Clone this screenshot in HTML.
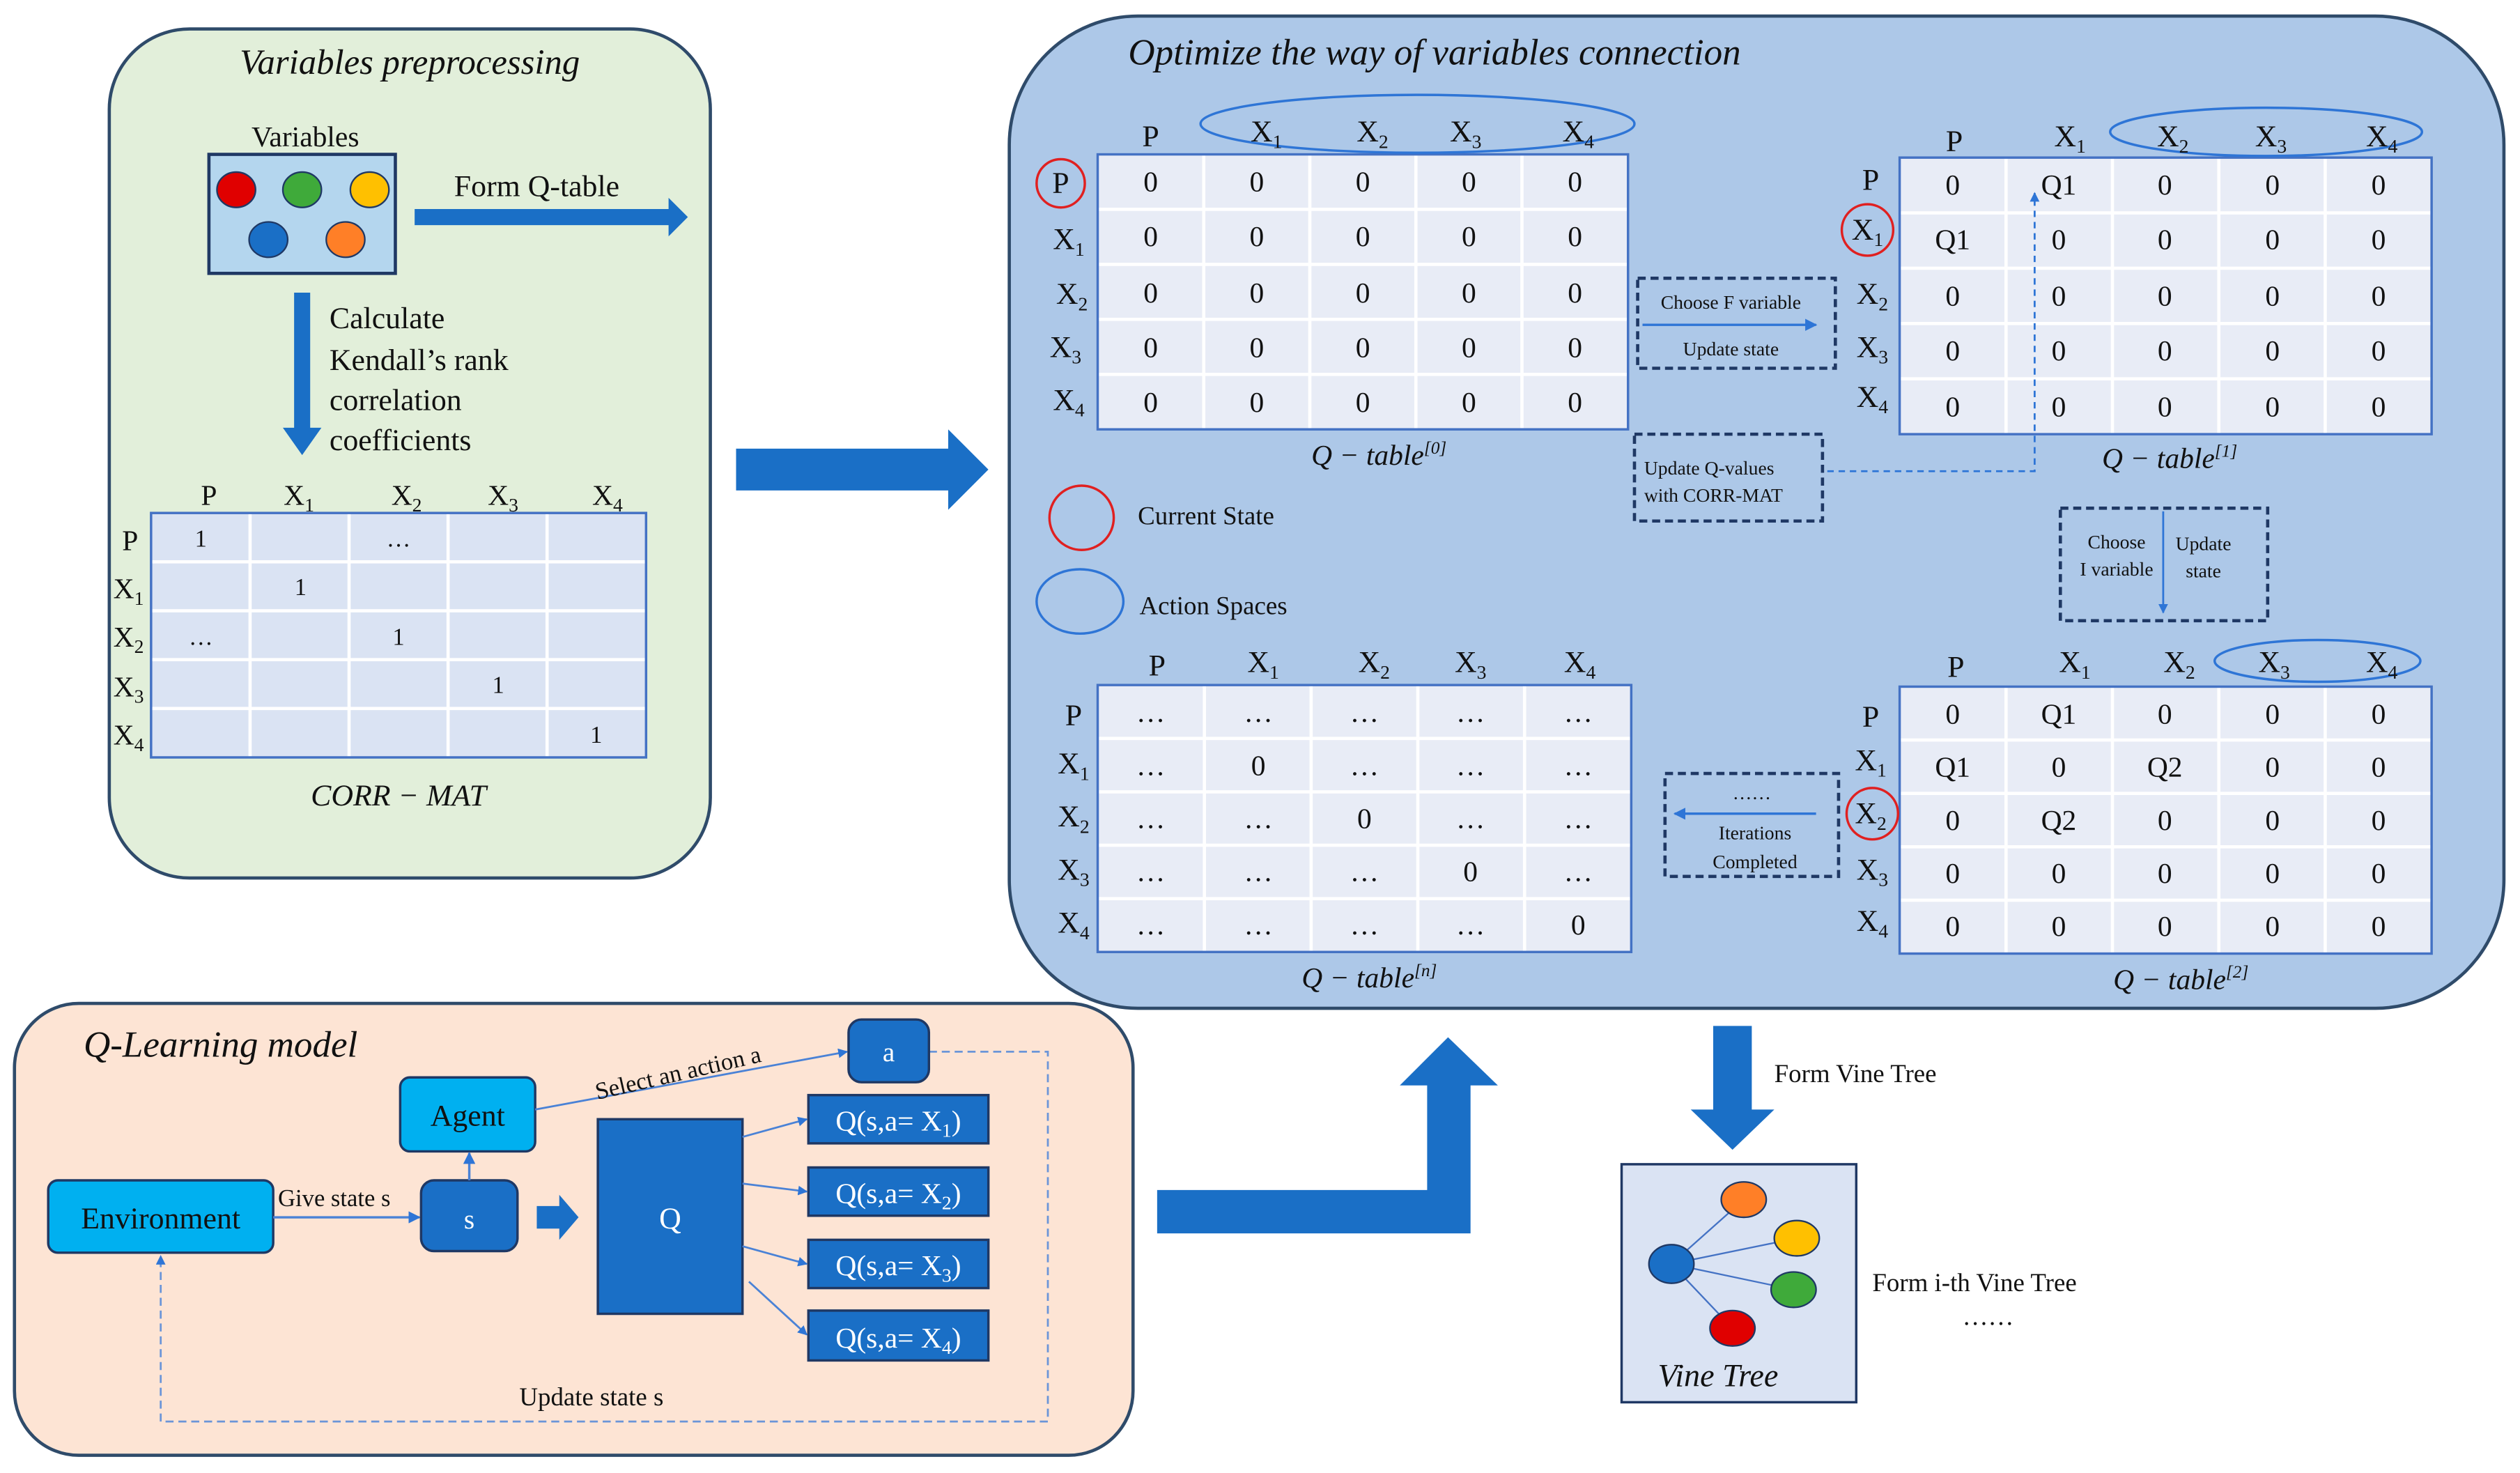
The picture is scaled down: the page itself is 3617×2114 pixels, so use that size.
<!DOCTYPE html>
<html><head><meta charset="utf-8"><style>
html,body{margin:0;padding:0;background:#fff;}
svg{display:block;}
text{font-family:"Liberation Serif",serif;fill:#111;}
</style></head><body>
<svg width="3617" height="2114" viewBox="0 0 1568 916" preserveAspectRatio="none" xmlns="http://www.w3.org/2000/svg">
<defs>
<marker id="ah" viewBox="0 0 10 10" refX="9" refY="5" markerWidth="5" markerHeight="5" orient="auto-start-reverse"><path d="M0,0L10,5L0,10z" fill="#2e75d6"/></marker>
</defs>
<rect width="1568" height="916" fill="#fff"/>

<!-- Green panel -->
<rect x="68" y="18" width="374" height="528" rx="50" fill="#e2efda" stroke="#2f4b6a" stroke-width="2"/>
<text x="255" y="46" font-size="22" font-style="italic" text-anchor="middle">Variables preprocessing</text>
<text x="190" y="91" font-size="18" text-anchor="middle">Variables</text>
<rect x="130" y="96" width="116" height="74" fill="#b4d6ee" stroke="#1f3864" stroke-width="2"/>
<g stroke="#1f3864" stroke-width="1">
<ellipse cx="147" cy="118" rx="12" ry="11" fill="#e00000"/>
<ellipse cx="188" cy="118" rx="12" ry="11" fill="#3faa3a"/>
<ellipse cx="230" cy="118" rx="12" ry="11" fill="#ffc000"/>
<ellipse cx="167" cy="149" rx="12" ry="11" fill="#1a6fc6"/>
<ellipse cx="215" cy="149" rx="12" ry="11" fill="#ff7f27"/>
</g>
<text x="334" y="122" font-size="19" text-anchor="middle">Form Q-table</text>
<path d="M258,130H416V123L428,135L416,147V140H258Z" fill="#1a6fc6"/>
<path d="M183,182H193V266H200L188,283L176,266H183Z" fill="#1a6fc6"/>
<g font-size="19"><text x="205" y="204">Calculate</text><text x="205" y="230">Kendall’s rank</text><text x="205" y="255">correlation</text><text x="205" y="280">coefficients</text></g>

<!-- CORR MAT -->
<rect x="94" y="319" width="308" height="152" fill="#dae3f3"/>
<g stroke="#fff" stroke-width="2">
<line x1="155.6" y1="319" x2="155.6" y2="471"/><line x1="217.2" y1="319" x2="217.2" y2="471"/><line x1="278.8" y1="319" x2="278.8" y2="471"/><line x1="340.4" y1="319" x2="340.4" y2="471"/>
<line x1="94" y1="349.4" x2="402" y2="349.4"/><line x1="94" y1="379.8" x2="402" y2="379.8"/><line x1="94" y1="410.2" x2="402" y2="410.2"/><line x1="94" y1="440.6" x2="402" y2="440.6"/>
</g>
<rect x="94" y="319" width="308" height="152" fill="none" stroke="#4472c4" stroke-width="1.5"/>
<g font-size="18" text-anchor="middle">
<text x="130" y="314">P</text><text x="186" y="314">X<tspan font-size="12" dy="4">1</tspan></text><text x="253" y="314">X<tspan font-size="12" dy="4">2</tspan></text><text x="313" y="314">X<tspan font-size="12" dy="4">3</tspan></text><text x="378" y="314">X<tspan font-size="12" dy="4">4</tspan></text>
<text x="81" y="342">P</text><text x="80" y="372">X<tspan font-size="12" dy="4">1</tspan></text><text x="80" y="402">X<tspan font-size="12" dy="4">2</tspan></text><text x="80" y="433">X<tspan font-size="12" dy="4">3</tspan></text><text x="80" y="463">X<tspan font-size="12" dy="4">4</tspan></text>
</g>
<g font-size="15" text-anchor="middle">
<text x="125" y="340">1</text><text x="248" y="340">…</text>
<text x="187" y="370">1</text>
<text x="125" y="401">…</text><text x="248" y="401">1</text>
<text x="310" y="431">1</text>
<text x="371" y="462">1</text>
</g>
<text x="248" y="501" font-size="19" font-style="italic" text-anchor="middle">CORR − MAT</text>

<!-- big arrow -->
<path d="M458,279H590V267L615,292L590,317V305H458Z" fill="#1a6fc6"/>

<!-- Blue panel -->
<rect x="628" y="10" width="930" height="617" rx="80" fill="#adc8e8" stroke="#2f4b6a" stroke-width="2"/>
<text x="702" y="40" font-size="23" font-style="italic">Optimize the way of variables connection</text>

<!-- Table 0 -->
<rect x="683" y="96" width="330" height="171" fill="#e8ecf6"/>
<g stroke="#fff" stroke-width="2">
<line x1="749" y1="96" x2="749" y2="267"/><line x1="815" y1="96" x2="815" y2="267"/><line x1="881" y1="96" x2="881" y2="267"/><line x1="947" y1="96" x2="947" y2="267"/>
<line x1="683" y1="130.2" x2="1013" y2="130.2"/><line x1="683" y1="164.4" x2="1013" y2="164.4"/><line x1="683" y1="198.6" x2="1013" y2="198.6"/><line x1="683" y1="232.8" x2="1013" y2="232.8"/>
</g>
<rect x="683" y="96" width="330" height="171" fill="none" stroke="#4472c4" stroke-width="1.5"/>
<ellipse cx="882" cy="77" rx="135" ry="18" fill="none" stroke="#2e75d6" stroke-width="1.5"/>
<circle cx="660" cy="114" r="15" fill="none" stroke="#e02020" stroke-width="1.5"/>
<g font-size="19" text-anchor="middle">
<text x="716" y="91">P</text><text x="788" y="88">X<tspan font-size="12" dy="4">1</tspan></text><text x="854" y="88">X<tspan font-size="12" dy="4">2</tspan></text><text x="912" y="88">X<tspan font-size="12" dy="4">3</tspan></text><text x="982" y="88">X<tspan font-size="12" dy="4">4</tspan></text>
<text x="660" y="120">P</text><text x="665" y="155">X<tspan font-size="12" dy="4">1</tspan></text><text x="667" y="189">X<tspan font-size="12" dy="4">2</tspan></text><text x="663" y="222">X<tspan font-size="12" dy="4">3</tspan></text><text x="665" y="255">X<tspan font-size="12" dy="4">4</tspan></text>
</g>
<g font-size="18" text-anchor="middle">
<text x="716" y="119">0</text><text x="782" y="119">0</text><text x="848" y="119">0</text><text x="914" y="119">0</text><text x="980" y="119">0</text>
<text x="716" y="153">0</text><text x="782" y="153">0</text><text x="848" y="153">0</text><text x="914" y="153">0</text><text x="980" y="153">0</text>
<text x="716" y="188">0</text><text x="782" y="188">0</text><text x="848" y="188">0</text><text x="914" y="188">0</text><text x="980" y="188">0</text>
<text x="716" y="222">0</text><text x="782" y="222">0</text><text x="848" y="222">0</text><text x="914" y="222">0</text><text x="980" y="222">0</text>
<text x="716" y="256">0</text><text x="782" y="256">0</text><text x="848" y="256">0</text><text x="914" y="256">0</text><text x="980" y="256">0</text>
</g>
<text x="858" y="289" font-size="18" font-style="italic" text-anchor="middle">Q − table<tspan font-size="11" dy="-7">[0]</tspan></text>

<!-- Table 1 -->
<rect x="1182" y="98" width="331" height="172" fill="#e8ecf6"/>
<g stroke="#fff" stroke-width="2">
<line x1="1248.2" y1="98" x2="1248.2" y2="270"/><line x1="1314.4" y1="98" x2="1314.4" y2="270"/><line x1="1380.6" y1="98" x2="1380.6" y2="270"/><line x1="1446.8" y1="98" x2="1446.8" y2="270"/>
<line x1="1182" y1="132.4" x2="1513" y2="132.4"/><line x1="1182" y1="166.8" x2="1513" y2="166.8"/><line x1="1182" y1="201.2" x2="1513" y2="201.2"/><line x1="1182" y1="235.6" x2="1513" y2="235.6"/>
</g>
<rect x="1182" y="98" width="331" height="172" fill="none" stroke="#4472c4" stroke-width="1.5"/>
<ellipse cx="1410" cy="82" rx="97" ry="15" fill="none" stroke="#2e75d6" stroke-width="1.5"/>
<circle cx="1162" cy="143" r="16" fill="none" stroke="#e02020" stroke-width="1.5"/>
<g font-size="19" text-anchor="middle">
<text x="1216" y="94">P</text><text x="1288" y="91">X<tspan font-size="12" dy="4">1</tspan></text><text x="1352" y="91">X<tspan font-size="12" dy="4">2</tspan></text><text x="1413" y="91">X<tspan font-size="12" dy="4">3</tspan></text><text x="1482" y="91">X<tspan font-size="12" dy="4">4</tspan></text>
<text x="1164" y="118">P</text><text x="1162" y="149">X<tspan font-size="12" dy="4">1</tspan></text><text x="1165" y="189">X<tspan font-size="12" dy="4">2</tspan></text><text x="1165" y="222">X<tspan font-size="12" dy="4">3</tspan></text><text x="1165" y="253">X<tspan font-size="12" dy="4">4</tspan></text>
</g>
<g font-size="18" text-anchor="middle">
<text x="1215" y="121">0</text><text x="1281" y="121">Q1</text><text x="1347" y="121">0</text><text x="1414" y="121">0</text><text x="1480" y="121">0</text>
<text x="1215" y="155">Q1</text><text x="1281" y="155">0</text><text x="1347" y="155">0</text><text x="1414" y="155">0</text><text x="1480" y="155">0</text>
<text x="1215" y="190">0</text><text x="1281" y="190">0</text><text x="1347" y="190">0</text><text x="1414" y="190">0</text><text x="1480" y="190">0</text>
<text x="1215" y="224">0</text><text x="1281" y="224">0</text><text x="1347" y="224">0</text><text x="1414" y="224">0</text><text x="1480" y="224">0</text>
<text x="1215" y="259">0</text><text x="1281" y="259">0</text><text x="1347" y="259">0</text><text x="1414" y="259">0</text><text x="1480" y="259">0</text>
</g>
<text x="1350" y="291" font-size="18" font-style="italic" text-anchor="middle">Q − table<tspan font-size="11" dy="-7">[1]</tspan></text>
<path d="M1137,293H1266V120" fill="none" stroke="#2e75d6" stroke-width="1.2" stroke-dasharray="4,3" marker-end="url(#ah)"/>

<!-- dashed boxes -->
<g fill="none" stroke="#1f3864" stroke-width="2" stroke-dasharray="5,3">
<rect x="1019" y="173" width="123" height="56"/>
<rect x="1017" y="270" width="117" height="54"/>
<rect x="1282" y="316" width="129" height="70"/>
<rect x="1036" y="481" width="108" height="64"/>
</g>
<line x1="1022" y1="202" x2="1130" y2="202" stroke="#2e75d6" stroke-width="1.5" marker-end="url(#ah)"/>
<g font-size="12" text-anchor="middle"><text x="1077" y="192">Choose F variable</text><text x="1077" y="221">Update state</text></g>
<g font-size="12"><text x="1023" y="295">Update Q-values</text><text x="1023" y="312">with CORR-MAT</text></g>
<line x1="1346" y1="318" x2="1346" y2="381" stroke="#2e75d6" stroke-width="1.2" marker-end="url(#ah)"/>
<g font-size="12" text-anchor="middle"><text x="1317" y="341">Choose</text><text x="1317" y="358">I variable</text><text x="1371" y="342">Update</text><text x="1371" y="359">state</text></g>
<line x1="1130" y1="506" x2="1042" y2="506" stroke="#2e75d6" stroke-width="1.5" marker-end="url(#ah)"/>
<g font-size="12" text-anchor="middle"><text x="1090" y="497">……</text><text x="1092" y="522">Iterations</text><text x="1092" y="540">Completed</text></g>

<!-- legend -->
<circle cx="673" cy="322" r="20" fill="none" stroke="#e02020" stroke-width="1.5"/>
<text x="708" y="326" font-size="16">Current State</text>
<ellipse cx="672" cy="374" rx="27" ry="20" fill="none" stroke="#2e75d6" stroke-width="1.5"/>
<text x="709" y="382" font-size="16">Action Spaces</text>

<!-- Table n -->
<rect x="683" y="426" width="332" height="166" fill="#e8ecf6"/>
<g stroke="#fff" stroke-width="2">
<line x1="749.4" y1="426" x2="749.4" y2="592"/><line x1="815.8" y1="426" x2="815.8" y2="592"/><line x1="882.2" y1="426" x2="882.2" y2="592"/><line x1="948.6" y1="426" x2="948.6" y2="592"/>
<line x1="683" y1="459.2" x2="1015" y2="459.2"/><line x1="683" y1="492.4" x2="1015" y2="492.4"/><line x1="683" y1="525.6" x2="1015" y2="525.6"/><line x1="683" y1="558.8" x2="1015" y2="558.8"/>
</g>
<rect x="683" y="426" width="332" height="166" fill="none" stroke="#4472c4" stroke-width="1.5"/>
<g font-size="19" text-anchor="middle">
<text x="720" y="420">P</text><text x="786" y="418">X<tspan font-size="12" dy="4">1</tspan></text><text x="855" y="418">X<tspan font-size="12" dy="4">2</tspan></text><text x="915" y="418">X<tspan font-size="12" dy="4">3</tspan></text><text x="983" y="418">X<tspan font-size="12" dy="4">4</tspan></text>
<text x="668" y="451">P</text><text x="668" y="481">X<tspan font-size="12" dy="4">1</tspan></text><text x="668" y="514">X<tspan font-size="12" dy="4">2</tspan></text><text x="668" y="547">X<tspan font-size="12" dy="4">3</tspan></text><text x="668" y="580">X<tspan font-size="12" dy="4">4</tspan></text>
</g>
<g font-size="18" text-anchor="middle">
<text x="716" y="449">…</text><text x="783" y="449">…</text><text x="849" y="449">…</text><text x="915" y="449">…</text><text x="982" y="449">…</text>
<text x="716" y="482">…</text><text x="783" y="482">0</text><text x="849" y="482">…</text><text x="915" y="482">…</text><text x="982" y="482">…</text>
<text x="716" y="515">…</text><text x="783" y="515">…</text><text x="849" y="515">0</text><text x="915" y="515">…</text><text x="982" y="515">…</text>
<text x="716" y="548">…</text><text x="783" y="548">…</text><text x="849" y="548">…</text><text x="915" y="548">0</text><text x="982" y="548">…</text>
<text x="716" y="581">…</text><text x="783" y="581">…</text><text x="849" y="581">…</text><text x="915" y="581">…</text><text x="982" y="581">0</text>
</g>
<text x="852" y="614" font-size="18" font-style="italic" text-anchor="middle">Q − table<tspan font-size="11" dy="-7">[n]</tspan></text>

<!-- Table 2 -->
<rect x="1182" y="427" width="331" height="166" fill="#e8ecf6"/>
<g stroke="#fff" stroke-width="2">
<line x1="1248.2" y1="427" x2="1248.2" y2="593"/><line x1="1314.4" y1="427" x2="1314.4" y2="593"/><line x1="1380.6" y1="427" x2="1380.6" y2="593"/><line x1="1446.8" y1="427" x2="1446.8" y2="593"/>
<line x1="1182" y1="460.2" x2="1513" y2="460.2"/><line x1="1182" y1="493.4" x2="1513" y2="493.4"/><line x1="1182" y1="526.6" x2="1513" y2="526.6"/><line x1="1182" y1="559.8" x2="1513" y2="559.8"/>
</g>
<rect x="1182" y="427" width="331" height="166" fill="none" stroke="#4472c4" stroke-width="1.5"/>
<ellipse cx="1442" cy="411" rx="64" ry="13" fill="none" stroke="#2e75d6" stroke-width="1.5"/>
<circle cx="1165" cy="506" r="16" fill="none" stroke="#e02020" stroke-width="1.5"/>
<g font-size="19" text-anchor="middle">
<text x="1217" y="421">P</text><text x="1291" y="418">X<tspan font-size="12" dy="4">1</tspan></text><text x="1356" y="418">X<tspan font-size="12" dy="4">2</tspan></text><text x="1415" y="418">X<tspan font-size="12" dy="4">3</tspan></text><text x="1482" y="418">X<tspan font-size="12" dy="4">4</tspan></text>
<text x="1164" y="452">P</text><text x="1164" y="479">X<tspan font-size="12" dy="4">1</tspan></text><text x="1164" y="512">X<tspan font-size="12" dy="4">2</tspan></text><text x="1165" y="547">X<tspan font-size="12" dy="4">3</tspan></text><text x="1165" y="579">X<tspan font-size="12" dy="4">4</tspan></text>
</g>
<g font-size="18" text-anchor="middle">
<text x="1215" y="450">0</text><text x="1281" y="450">Q1</text><text x="1347" y="450">0</text><text x="1414" y="450">0</text><text x="1480" y="450">0</text>
<text x="1215" y="483">Q1</text><text x="1281" y="483">0</text><text x="1347" y="483">Q2</text><text x="1414" y="483">0</text><text x="1480" y="483">0</text>
<text x="1215" y="516">0</text><text x="1281" y="516">Q2</text><text x="1347" y="516">0</text><text x="1414" y="516">0</text><text x="1480" y="516">0</text>
<text x="1215" y="549">0</text><text x="1281" y="549">0</text><text x="1347" y="549">0</text><text x="1414" y="549">0</text><text x="1480" y="549">0</text>
<text x="1215" y="582">0</text><text x="1281" y="582">0</text><text x="1347" y="582">0</text><text x="1414" y="582">0</text><text x="1480" y="582">0</text>
</g>
<text x="1357" y="615" font-size="18" font-style="italic" text-anchor="middle">Q − table<tspan font-size="11" dy="-7">[2]</tspan></text>

<!-- Vine tree -->
<path d="M1066,638H1090V690H1104L1078,715L1052,690H1066Z" fill="#1a6fc6"/>
<text x="1104" y="673" font-size="16">Form Vine Tree</text>
<rect x="1009" y="724" width="146" height="148" fill="#dae3f3" stroke="#1f3864" stroke-width="1.5"/>
<g stroke="#4472c4" stroke-width="1">
<line x1="1040" y1="786" x2="1085" y2="746"/><line x1="1040" y1="786" x2="1118" y2="770"/><line x1="1040" y1="786" x2="1116" y2="802"/><line x1="1040" y1="786" x2="1078" y2="826"/>
</g>
<g stroke="#1f3864" stroke-width="1">
<ellipse cx="1040" cy="786" rx="14" ry="12" fill="#1a6fc6"/>
<ellipse cx="1085" cy="746" rx="14" ry="11" fill="#ff7f27"/>
<ellipse cx="1118" cy="770" rx="14" ry="11" fill="#ffc000"/>
<ellipse cx="1116" cy="802" rx="14" ry="11" fill="#3faa3a"/>
<ellipse cx="1078" cy="826" rx="14" ry="11" fill="#e00000"/>
</g>
<text x="1069" y="862" font-size="20" font-style="italic" text-anchor="middle">Vine Tree</text>
<text x="1165" y="803" font-size="16">Form i-th Vine Tree</text>
<text x="1237" y="824" font-size="16" text-anchor="middle">……</text>

<!-- elbow arrow -->
<path d="M720,740H888V675H871L901,645L932,675H915V767H720Z" fill="#1a6fc6"/>

<!-- Q-learning panel -->
<rect x="9" y="624" width="696" height="281" rx="40" fill="#fde4d4" stroke="#2f4b6a" stroke-width="2"/>
<text x="52" y="657" font-size="23" font-style="italic">Q-Learning model</text>
<path d="M578,654H652V884H100V781" fill="none" stroke="#6b95d8" stroke-width="1.2" stroke-dasharray="5,3" marker-end="url(#ah)"/>
<text x="368" y="874" font-size="16" text-anchor="middle">Update state s</text>
<rect x="30" y="734" width="140" height="45" rx="6" fill="#00b0f0" stroke="#1f3864" stroke-width="1.5"/>
<text x="100" y="764" font-size="19" text-anchor="middle">Environment</text>
<rect x="249" y="670" width="84" height="46" rx="6" fill="#00b0f0" stroke="#1f3864" stroke-width="1.5"/>
<text x="291" y="700" font-size="19" text-anchor="middle">Agent</text>
<line x1="170" y1="757" x2="261" y2="757" stroke="#4a82d6" stroke-width="1.5" marker-end="url(#ah)"/>
<text x="173" y="750" font-size="15">Give state s</text>
<rect x="262" y="734" width="60" height="44" rx="8" fill="#1a6fc6" stroke="#1f3864" stroke-width="1.5"/>
<text x="292" y="764" font-size="17" fill="#fff" text-anchor="middle" style="fill:#fff">s</text>
<line x1="292" y1="734" x2="292" y2="717" stroke="#4a82d6" stroke-width="1.5" marker-end="url(#ah)"/>
<path d="M334,750H348V743L360,757L348,771V764H334Z" fill="#1a6fc6"/>
<rect x="372" y="696" width="90" height="121" fill="#1a6fc6" stroke="#1f3864" stroke-width="1.5"/>
<text x="417" y="764" font-size="19" text-anchor="middle" style="fill:#fff">Q</text>
<g fill="#1a6fc6" stroke="#1f3864" stroke-width="1.5">
<rect x="503" y="681" width="112" height="30"/><rect x="503" y="726" width="112" height="30"/><rect x="503" y="771" width="112" height="30"/><rect x="503" y="815" width="112" height="31"/>
</g>
<g font-size="18" text-anchor="middle" style="fill:#fff">
<text x="559" y="703" style="fill:#fff">Q(s,a= X<tspan font-size="12" dy="4">1</tspan><tspan dy="-4">)</tspan></text>
<text x="559" y="748" style="fill:#fff">Q(s,a= X<tspan font-size="12" dy="4">2</tspan><tspan dy="-4">)</tspan></text>
<text x="559" y="793" style="fill:#fff">Q(s,a= X<tspan font-size="12" dy="4">3</tspan><tspan dy="-4">)</tspan></text>
<text x="559" y="838" style="fill:#fff">Q(s,a= X<tspan font-size="12" dy="4">4</tspan><tspan dy="-4">)</tspan></text>
</g>
<g stroke="#4a82d6" stroke-width="1.2" marker-end="url(#ah)">
<line x1="462" y1="707" x2="502" y2="696"/><line x1="462" y1="736" x2="502" y2="741"/><line x1="462" y1="775" x2="502" y2="786"/><line x1="466" y1="797" x2="502" y2="830"/>
<line x1="333" y1="690" x2="527" y2="654"/>
</g>
<text x="423" y="672" font-size="15" text-anchor="middle" transform="rotate(-13 423 672)">Select an action a</text>
<rect x="528" y="634" width="50" height="39" rx="8" fill="#1a6fc6" stroke="#1f3864" stroke-width="1.5"/>
<text x="553" y="660" font-size="17" text-anchor="middle" style="fill:#fff">a</text>
</svg>
</body></html>
